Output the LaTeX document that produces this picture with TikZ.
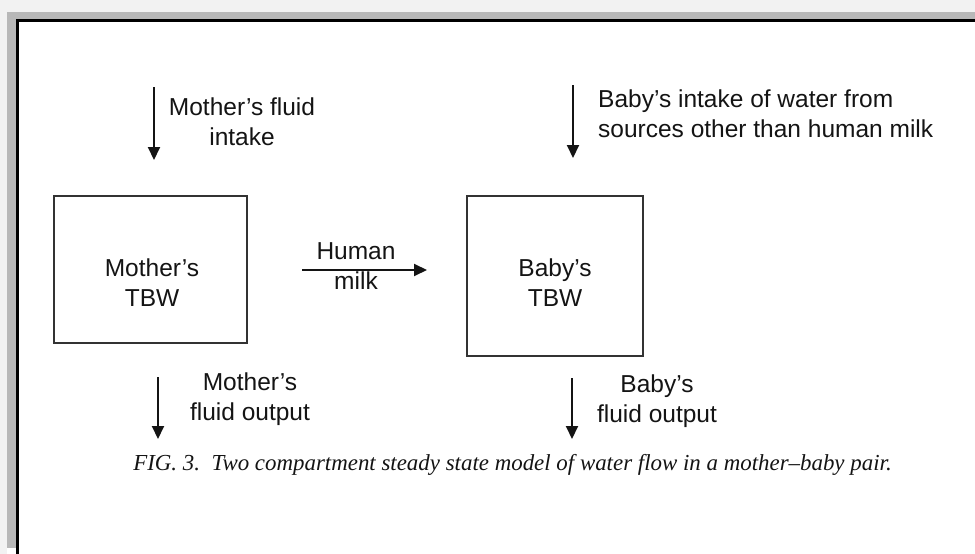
\documentclass[tikz,border=0pt]{standalone}
\usepackage{fontspec}
\setmainfont{Liberation Sans}
\newfontfamily\captionserif{Liberation Serif}
\usetikzlibrary{arrows.meta}
\definecolor{inkgray}{HTML}{141414}
\definecolor{boxline}{HTML}{333333}
\definecolor{paneouter}{HTML}{F2F2F2}
\definecolor{panemid}{HTML}{B8B8B8}
\tikzset{
  compartment/.style={draw=boxline, line width=2.8pt, fill=white, inner sep=0pt},
  flow/.style={draw=inkgray, line width=2pt,
    -{Triangle[length=13pt,width=12pt]}},
  label/.style={text=inkgray, font=\fontsize{24.5}{30}\selectfont, inner sep=0pt},
  caption/.style={text=inkgray, font=\captionserif\itshape\fontsize{22.9}{27}\selectfont, inner sep=0pt}
}
\begin{document}
\begin{tikzpicture}[x=1pt,y=-1pt]
  % canvas and window frame
  \useasboundingbox (0,0) rectangle (975,554);
  \fill[white] (0,0) rectangle (975,554);
  \fill[paneouter] (0,0) rectangle (975,12);
  \fill[paneouter] (0,0) rectangle (7,554);
  \fill[panemid] (7,12) rectangle (975,19);
  \fill[panemid] (7,12) rectangle (16,548);
  \fill[black] (16,19) rectangle (975,22);
  \fill[black] (16,19) rectangle (19,554);

  % compartments
  \node[compartment, minimum width=193pt, minimum height=147pt] (mother) at (150.5,269.5) {};
  \node[compartment, minimum width=176pt, minimum height=160pt] (baby) at (555,276) {};
  \node[label, align=center] (mothertbw) at (152,283) {Mother’s\\TBW};
  \node[label, align=center] (babytbw) at (555,283) {Baby’s\\TBW};

  % flow end points
  \coordinate (mintakeA) at (154,87);
  \coordinate (mintakeB) at (154,160);
  \coordinate (bintakeA) at (573,85);
  \coordinate (bintakeB) at (573,158);
  \coordinate (milkA) at (302,270);
  \coordinate (milkB) at (427,270);
  \coordinate (moutA) at (158,377);
  \coordinate (moutB) at (158,439);
  \coordinate (boutA) at (572,378);
  \coordinate (boutB) at (572,439);

  \draw[flow] (mintakeA) -- (mintakeB);
  \draw[flow] (bintakeA) -- (bintakeB);
  \draw[flow] (milkA) -- (milkB);
  \draw[flow] (moutA) -- (moutB);
  \draw[flow] (boutA) -- (boutB);

  % flow labels
  \node[label, align=center] (mintakelbl) at (242,122) {Mother’s fluid\\intake};
  \node[label, align=left, anchor=west] (bintakelbl) at (598,113.5) {Baby’s intake of water from\\sources other than human milk};
  \node[label, align=center] (milklbl) at (356,266) {Human\\milk};
  \node[label, align=center] (moutlbl) at (250,399) {Mother’s\\fluid output};
  \node[label, align=center] (boutlbl) at (657,401) {Baby’s\\fluid output};

  % caption
  \node[caption] (figcaption) at (512.5,465) {FIG. 3.\ \ Two compartment steady state model of water flow in a mother–baby pair.};
\end{tikzpicture}
\end{document}
